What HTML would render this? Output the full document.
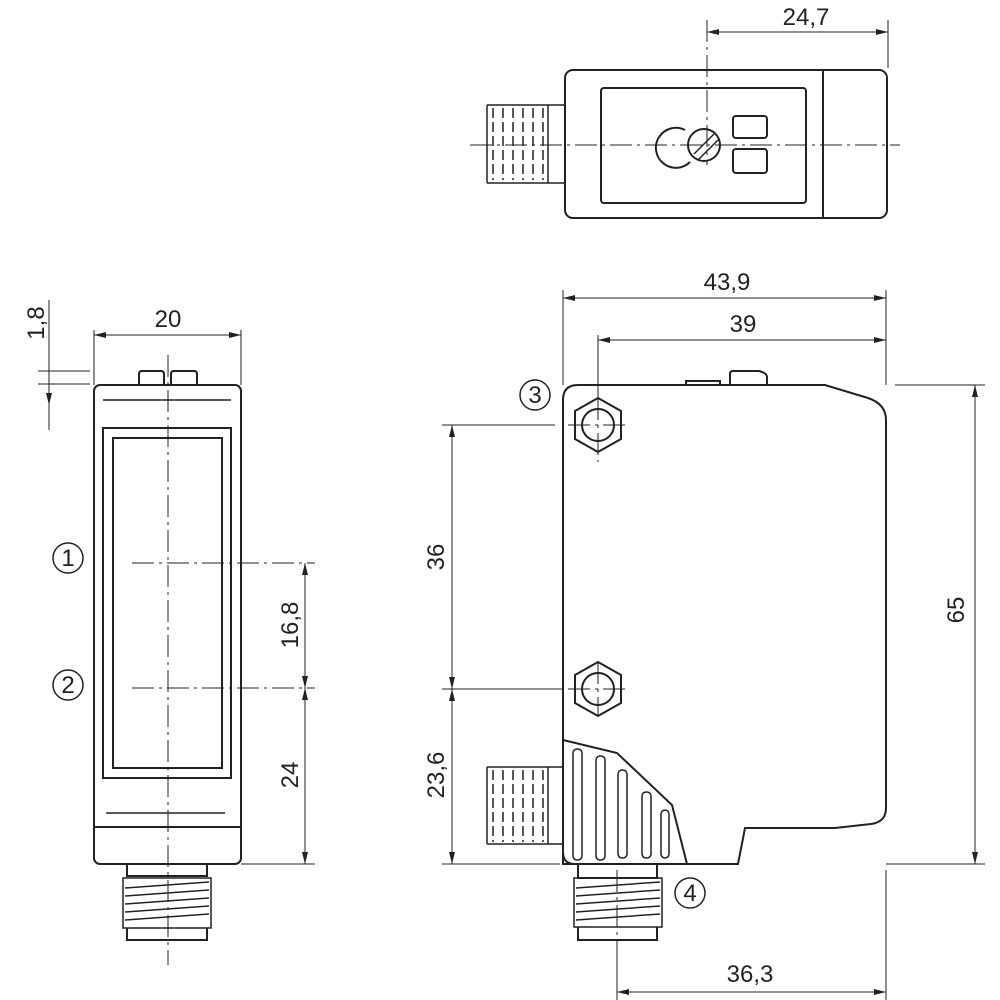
<!DOCTYPE html>
<html><head><style>body{margin:0;background:#fff}svg{display:block}text{font-family:"Liberation Sans",sans-serif;font-size:24px;fill:#222}</style></head><body>
<svg width="1000" height="1000" viewBox="0 0 1000 1000" xmlns="http://www.w3.org/2000/svg">
<defs>
<marker id="a" viewBox="0 0 12 6" refX="12" refY="3" markerWidth="12" markerHeight="6" orient="auto-start-reverse" markerUnits="userSpaceOnUse"><path d="M0,0L12,3L0,6z" fill="#222"/></marker>
</defs>
<g fill="none" stroke="#222">
<g stroke-width="1" stroke-dasharray="22,5,3,5">
<line x1="168" y1="355" x2="168" y2="965"/>
<line x1="132" y1="563" x2="315" y2="563"/>
<line x1="132" y1="688" x2="315" y2="688"/>
<line x1="470" y1="145" x2="900" y2="145"/>
<line x1="707" y1="20" x2="707" y2="165"/>
<line x1="617" y1="870" x2="617" y2="955"/>
<line x1="598" y1="398" x2="598" y2="462"/><line x1="568" y1="425" x2="630" y2="425"/>
<line x1="598" y1="662" x2="598" y2="716"/><line x1="568" y1="689" x2="630" y2="689"/>
</g>
<g stroke-width="1">
<line x1="94" y1="330" x2="94" y2="385"/><line x1="241" y1="330" x2="241" y2="385"/>
<line x1="94" y1="335" x2="241" y2="335" marker-start="url(#a)" marker-end="url(#a)"/>
<line x1="49" y1="300" x2="49" y2="430"/>
<line x1="38" y1="371" x2="90" y2="371"/><line x1="38" y1="384" x2="90" y2="384"/>
<path d="M49,350V371M49,384V405" marker-end="url(#a)"/>
<line x1="241" y1="864" x2="315" y2="864"/>
<line x1="305" y1="563" x2="305" y2="688" marker-start="url(#a)" marker-end="url(#a)"/>
<line x1="305" y1="688" x2="305" y2="864" marker-start="url(#a)" marker-end="url(#a)"/>
<line x1="563" y1="290" x2="563" y2="385"/><line x1="886" y1="290" x2="886" y2="385"/>
<line x1="563" y1="298" x2="886" y2="298" marker-start="url(#a)" marker-end="url(#a)"/>
<line x1="598" y1="335" x2="598" y2="398"/>
<line x1="598" y1="340" x2="886" y2="340" marker-start="url(#a)" marker-end="url(#a)"/>
<line x1="895" y1="385" x2="985" y2="385"/><line x1="886" y1="864" x2="985" y2="864"/>
<line x1="975" y1="385" x2="975" y2="864" marker-start="url(#a)" marker-end="url(#a)"/>
<line x1="442" y1="425" x2="555" y2="425"/><line x1="442" y1="689" x2="563" y2="689"/><line x1="442" y1="864" x2="560" y2="864"/>
<line x1="452" y1="425" x2="452" y2="689" marker-start="url(#a)" marker-end="url(#a)"/>
<line x1="452" y1="689" x2="452" y2="864" marker-start="url(#a)" marker-end="url(#a)"/>
<line x1="886" y1="870" x2="886" y2="1000"/><line x1="617" y1="955" x2="617" y2="1000"/>
<line x1="617" y1="992" x2="886" y2="992" marker-start="url(#a)" marker-end="url(#a)"/>
<line x1="888" y1="20" x2="888" y2="68"/>
<line x1="707" y1="32" x2="888" y2="32" marker-start="url(#a)" marker-end="url(#a)"/>
</g>
<g stroke-width="2">
<rect x="94" y="385" width="147" height="479" rx="6"/>
<path d="M139,385V374q0-3 3-3h19q3,0 3,3V385M171,385V374q0-3 3-3h20q3,0 3,3V385"/>
<line x1="94" y1="827" x2="241" y2="827"/>
<rect x="103" y="428" width="128" height="350"/>
<rect x="113" y="438" width="109" height="330"/>
<path d="M127,864V876H207V864M127,928V940H207V928"/>
<path d="M123,878H211V928H123Z" stroke-width="1.5"/>
</g>
<g stroke-width="1.5"><line x1="103" y1="400" x2="231" y2="400"/><line x1="106" y1="813" x2="225" y2="813"/>
<path d="M125,888L209,882M125,896L209,890M125,904L209,898M125,912L209,906M125,920L209,914"/></g>
<circle cx="68" cy="558" r="15" stroke-width="1.5"/><circle cx="68" cy="685" r="15" stroke-width="1.5"/>
<g stroke-width="2">
<path d="M563,864V400q0-15 15-15H825L868,398q18,6 18,22V808q0,14-15,16L835,828H745L738,864Z"/>
<path d="M686,385V381h34v4M730,385V374q0-3 3-3h26q8,2 8,6V385"/>
<polygon points="598,398 621,411 621,439 598,452 575,439 575,411"/>
<circle cx="598" cy="425" r="16"/>
<polygon points="598,662 621,675 621,703 598,716 575,703 575,675"/>
<circle cx="598" cy="689" r="16"/>
<path d="M563,740L617,753L672,805L687,864H575q-12,0-12-12Z"/>
<path d="M578,864V878H657V864M578,927V940H657V927"/>
<path d="M574,878H662V927H574Z" stroke-width="1.5"/>
</g>
<g stroke-width="1.5">
<rect x="573" y="749" width="9" height="111" rx="4"/><rect x="596" y="756" width="9" height="104" rx="4"/>
<rect x="618" y="770" width="9" height="88" rx="4"/><rect x="642" y="792" width="9" height="66" rx="4"/><rect x="661" y="810" width="8" height="48" rx="4"/>
<path d="M576,888L660,882M576,896L660,890M576,904L660,898M576,912L660,906M576,920L660,914"/>
<path d="M487,767H563M487,844H563M548,767V844M487,767V844"/>
<path d="M493,770V842M503,770V842M513,770V842M523,770V842M533,770V842M543,770V842" stroke-dasharray="10,4"/>
</g>
<circle cx="535" cy="395" r="15" stroke-width="1.5"/><circle cx="690" cy="893" r="15" stroke-width="1.5"/>
<g stroke-width="2">
<rect x="565" y="70" width="322" height="148" rx="8"/>
<line x1="823" y1="70" x2="823" y2="218"/>
<rect x="601" y="88" width="205" height="115" rx="3"/>
<path d="M685,130A20,20 0 1 0 690,162"/>
<circle cx="704" cy="145" r="16"/>
<rect x="733" y="116" width="34" height="22" rx="3"/><rect x="733" y="149" width="34" height="24" rx="3"/>
</g>
<g stroke-width="1.5">
<path d="M694,154L714,134M698,160L718,140"/>
<path d="M548,105H565M548,183H565M487,105V183M548,105V183M487,105H548M487,183H548"/>
<path d="M493,108V180M503,108V180M513,108V180M523,108V180M533,108V180M543,108V180" stroke-dasharray="10,4"/>
</g>
</g>
<text x="168" y="327" text-anchor="middle">20</text>
<text transform="translate(44,323) rotate(-90)" text-anchor="middle">1,8</text>
<text transform="translate(298,625) rotate(-90)" text-anchor="middle">16,8</text>
<text transform="translate(298,775) rotate(-90)" text-anchor="middle">24</text>
<text x="727" y="290" text-anchor="middle">43,9</text>
<text x="743" y="332" text-anchor="middle">39</text>
<text transform="translate(964,610) rotate(-90)" text-anchor="middle">65</text>
<text transform="translate(444,557) rotate(-90)" text-anchor="middle">36</text>
<text transform="translate(444,775) rotate(-90)" text-anchor="middle">23,6</text>
<text x="750" y="982" text-anchor="middle">36,3</text>
<text x="806" y="25" text-anchor="middle">24,7</text>
<g style="font-size:22px" text-anchor="middle">
<text x="68" y="566">1</text><text x="68" y="693">2</text><text x="535" y="403">3</text><text x="690" y="901">4</text>
</g>
</svg>
</body></html>
